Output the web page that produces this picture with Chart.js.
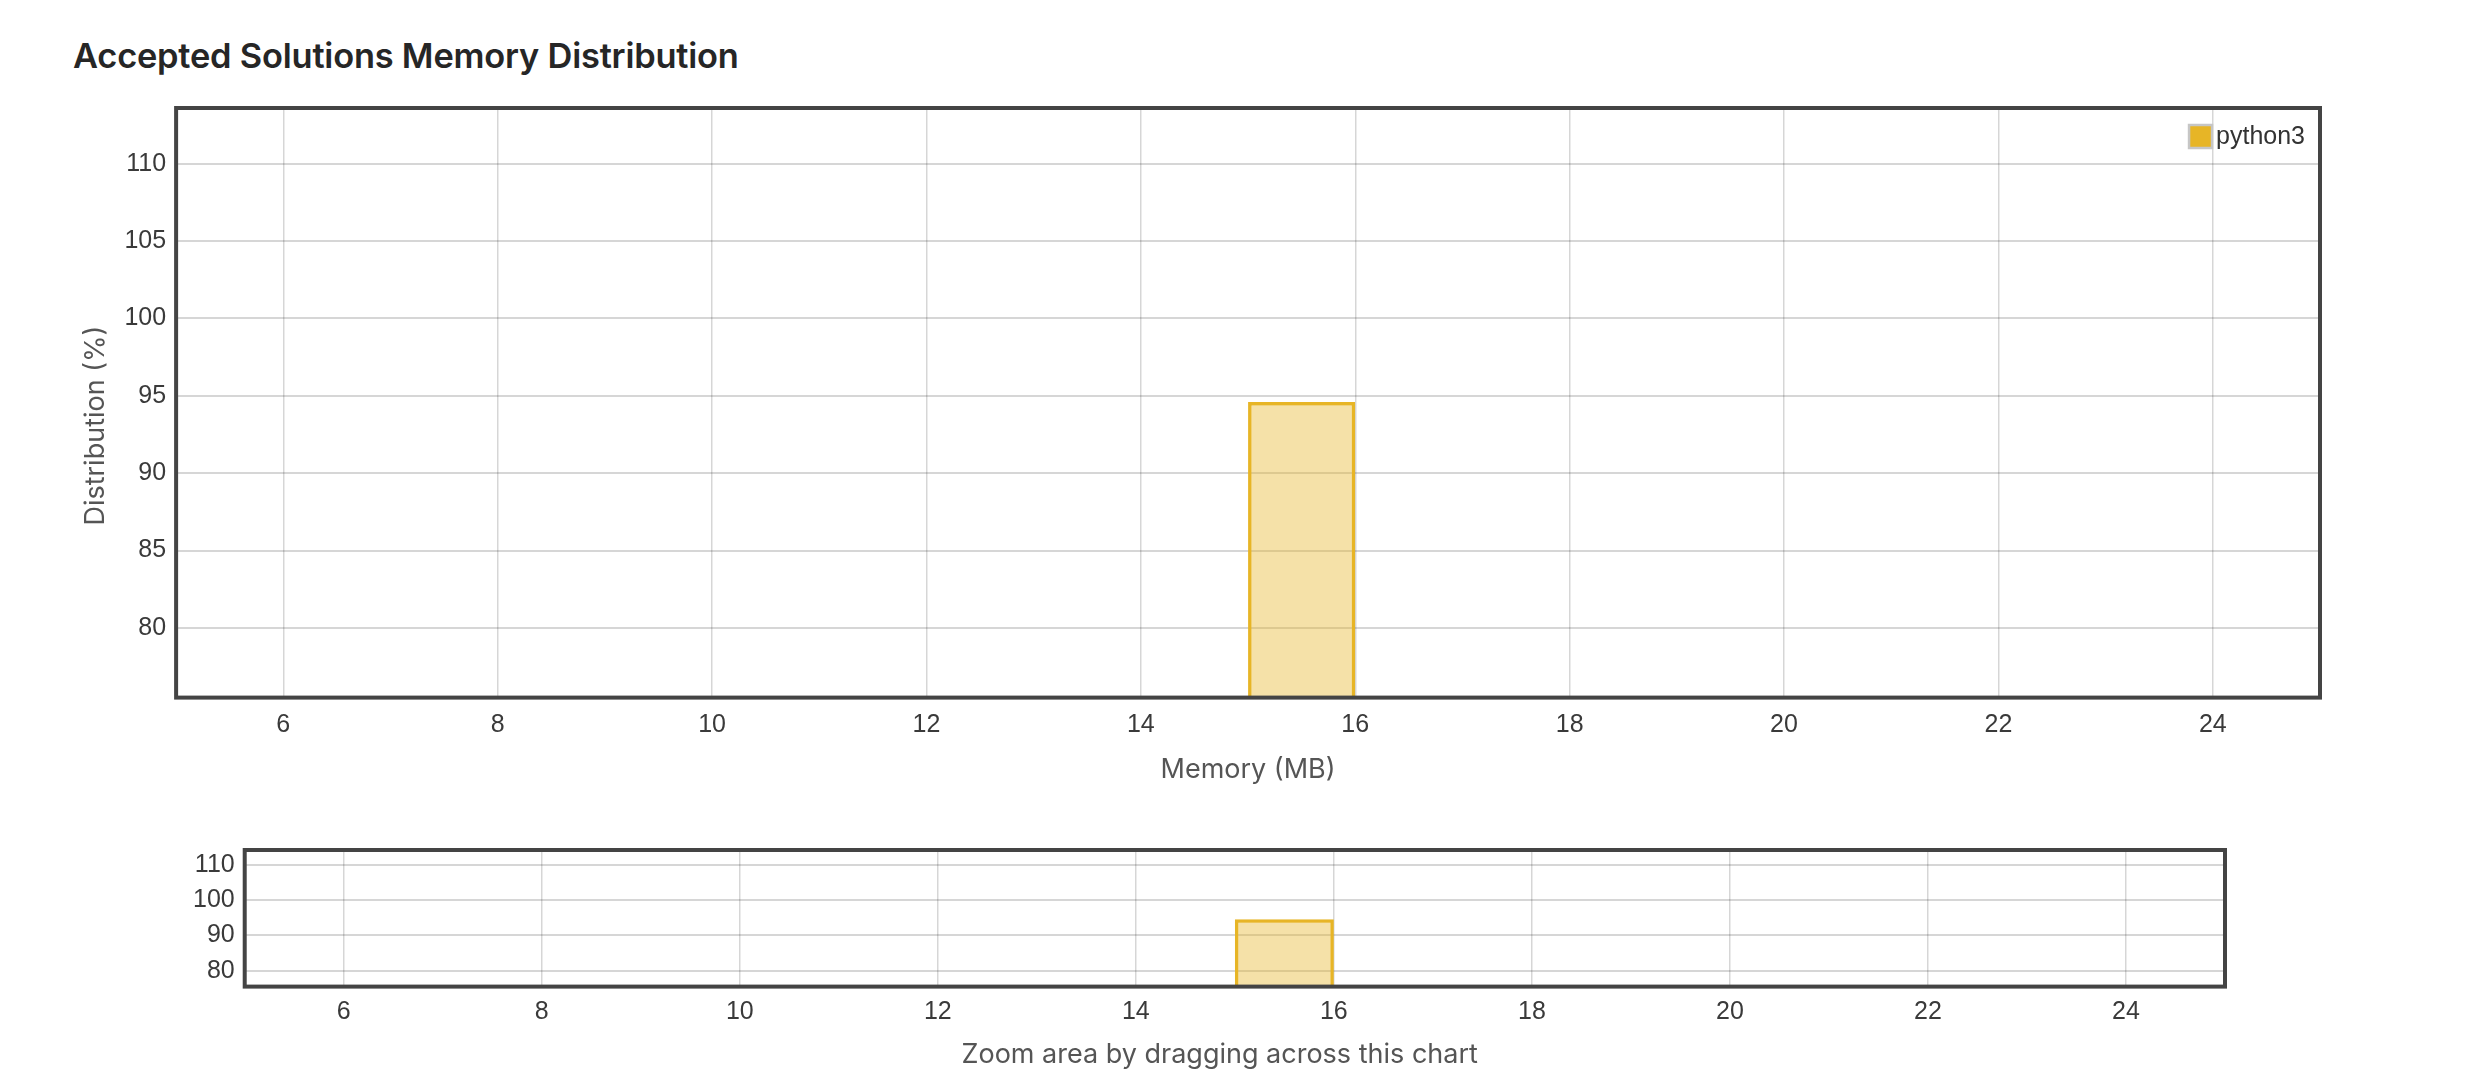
<!DOCTYPE html>
<html>
<head>
<meta charset="utf-8">
<script src="https://cdn.jsdelivr.net/npm/chart.js@4.4.1/dist/chart.umd.min.js"></script>
<style>
  body { margin: 0; background: #fff; width: 2488px; height: 1084px; overflow: hidden; font-family: Inter, "Noto Sans", sans-serif; }
  h3 { position: absolute; left: 73px; top: 35px; margin: 0; font-size: 34.4px; font-weight: 600; color: #262626; letter-spacing: -0.2px; }
  .box { position: absolute; left: 0; width: 2400px; }
  #mainBox { top: 70px; height: 720px; }
  #navBox { top: 820px; height: 255px; }
</style>
</head>
<body>
<h3>Accepted Solutions Memory Distribution</h3>
<div class="box" id="mainBox"><canvas id="mainChart"></canvas></div>
<div class="box" id="navBox"><canvas id="navChart"></canvas></div>
<script>
// data
var memoryMB = [15.5];          // bin centre, bin is 15-16 MB
var python3Pct = [94.6];
var seriesName = 'python3';
var xTicks = [6, 8, 10, 12, 14, 16, 18, 20, 22, 24];
var yTicks = [80, 85, 90, 95, 100, 105, 110];
var navYTicks = [80, 90, 100, 110];
var xRange = [5, 25];
var yRange = [75.5, 113.6];
var navYRange = [75.5, 114.2];

var gold = 'rgb(231, 181, 38)';
var goldFill = 'rgba(231, 181, 38, 0.4)';
var gridColor = 'rgba(0, 0, 0, 0.16)';
var tickFont = 'Liberation Sans, Arial, sans-serif';

Chart.defaults.font.family = 'Inter, "Noto Sans", sans-serif';
Chart.defaults.color = '#333';

// dark frame round the plot area
var framePlugin = {
    id: 'frame',
    afterDraw: function(chart) {
        var a = chart.chartArea, ctx = chart.ctx;
        ctx.save();
        ctx.strokeStyle = '#444';
        ctx.lineWidth = 4;
        ctx.strokeRect(a.left, a.top, a.right - a.left, a.bottom - a.top);
        ctx.restore();
    }
};

// legend drawn inside the plot, top right
var insideLegend = {
    id: 'insideLegend',
    afterDraw: function(chart) {
        if (chart.canvas.id !== 'mainChart') return;
        var a = chart.chartArea, ctx = chart.ctx;
        var ds = chart.data.datasets[0];
        ctx.save();
        ctx.font = '25px ' + tickFont;
        ctx.textBaseline = 'middle';
        var tw = ctx.measureText(ds.label).width;
        var tx = a.right - 15 - tw;
        var cy = a.top + 28.5;
        ctx.fillStyle = ds.borderColor;
        ctx.fillRect(tx - 27, cy - 11.5, 23, 23);
        ctx.strokeStyle = '#c6c6c6';
        ctx.lineWidth = 2.5;
        ctx.strokeRect(tx - 27, cy - 11.5, 23, 23);
        ctx.fillStyle = '#333';
        ctx.fillText(ds.label, tx, cy + 1);
        ctx.restore();
    }
};

function barData() {
    return memoryMB.map(function(m, i) { return {x: m, y: python3Pct[i]}; });
}

function makeChart(id, o) {
    return new Chart(document.getElementById(id), {
        type: 'bar',
        data: {
            datasets: [{
                label: seriesName,
                data: barData(),
                backgroundColor: goldFill,
                borderColor: gold,
                borderWidth: 3.5,
                borderSkipped: 'bottom',
                categoryPercentage: 1,
                barPercentage: 0.5
            }]
        },
        options: {
            responsive: true,
            maintainAspectRatio: false,
            animation: false,
            layout: { padding: o.padding },
            plugins: { legend: { display: false }, tooltip: { enabled: false } },
            scales: {
                x: {
                    type: 'linear',
                    min: xRange[0],
                    max: xRange[1],
                    offset: false,
                    afterBuildTicks: function(axis) { axis.ticks = xTicks.map(function(v) { return {value: v}; }); },
                    grid: { color: gridColor, lineWidth: 1.5, drawTicks: false, offset: false },
                    border: { display: false },
                    ticks: { padding: o.xTickPad, font: { size: 25, family: tickFont }, color: '#3a3a3a', maxRotation: 0 },
                    title: { display: true, text: o.xTitle, color: '#555', font: { size: 27 }, padding: { top: o.xTitlePad, bottom: 4 } }
                },
                y: {
                    type: 'linear',
                    min: o.yRange[0],
                    max: o.yRange[1],
                    afterBuildTicks: function(axis) { axis.ticks = o.yTicks.map(function(v) { return {value: v}; }); },
                    grid: { color: gridColor, lineWidth: 2, drawTicks: false },
                    border: { display: false },
                    ticks: { padding: 10, font: { size: 25, family: tickFont }, color: '#3a3a3a' },
                    title: { display: !!o.yTitle, text: o.yTitle, color: '#555', font: { size: 27 }, padding: 2 }
                }
            }
        },
        plugins: [framePlugin, insideLegend]
    });
}

makeChart('mainChart', {
    padding: { left: 78, right: 80, top: 38, bottom: 0 },
    xTickPad: 13, xTitlePad: 0,
    xTitle: 'Memory (MB)',
    // trailing spaces nudge the title off centre, as in the picture
    yTitle: 'Distribution (%)      ',
    yTicks: yTicks, yRange: yRange
});

makeChart('navChart', {
    padding: { left: 183, right: 175, top: 30, bottom: 0 },
    xTickPad: 10.5, xTitlePad: 1,
    xTitle: 'Zoom area by dragging across this chart    ', yTitle: '',
    yTicks: navYTicks, yRange: navYRange
});
</script>
</body>
</html>
